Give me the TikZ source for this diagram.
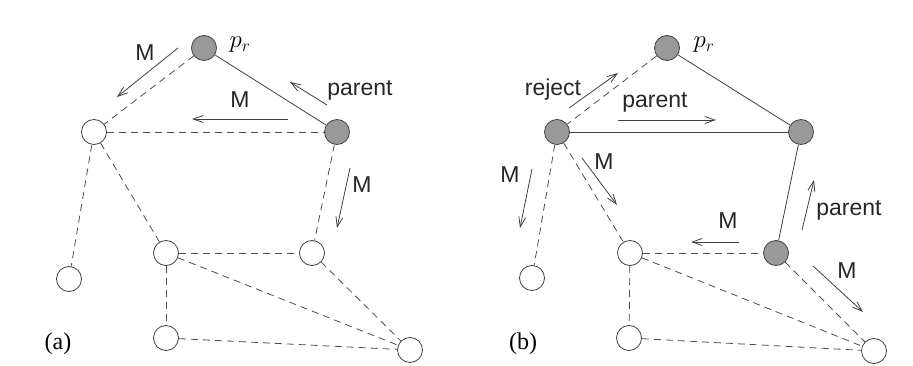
\documentclass[tikz,border=0pt]{standalone}
\usepackage{fontspec}
\setmainfont{Liberation Serif}
\setsansfont{Liberation Sans}
\usetikzlibrary{arrows.meta}
\begin{document}
\begin{tikzpicture}[x=1pt,y=-1pt,
  vtx/.style={circle,draw=black!75,line width=0.8pt,minimum size=25pt,inner sep=0pt,fill=white},
  leader/.style={vtx,fill=black!40},
  tree/.style={draw=black!75,line width=0.8pt},
  nbr/.style={draw=black!70,line width=0.8pt,dash pattern=on 7pt off 5pt},
  msg/.style={draw=black!75,line width=0.8pt,-{Straight Barb[length=10pt,width=7pt]}},
  lbl/.style={font=\sffamily\fontsize{23}{27}\selectfont,text=black!85,inner sep=0pt},
  figcap/.style={font=\fontsize{24}{28}\selectfont,inner sep=0pt},
  prl/.style={font=\fontsize{27}{31}\selectfont,inner sep=0pt}
]
\useasboundingbox (0,0) rectangle (913,366);
% ---------- (a) ----------
\node[leader] (apr) at (204,48) {};
\node[vtx] (aA) at (94,132) {};
\node[leader] (aB) at (337,132) {};
\node[vtx] (aC) at (69,279) {};
\node[vtx] (aD) at (166,253) {};
\node[vtx] (aE) at (312,253) {};
\node[vtx] (aF) at (166,338) {};
\node[vtx] (aG) at (410,350) {};
\node[prl] (aprl) at (240,45) {$p_r$};
\draw[tree] (apr) -- (aB);
\draw[nbr] (apr) -- (aA);
\draw[nbr] (aA) -- (aB);
\draw[nbr] (aA) -- (aC);
\draw[nbr] (aA) -- (aD);
\draw[nbr] (aB) -- (aE);
\draw[nbr] (aD) -- (aE);
\draw[nbr] (aD) -- (aF);
\draw[nbr] (aD) -- (aG);
\draw[nbr] (aE) -- (aG);
\draw[nbr] (aF) -- (aG);
\coordinate (am1s) at (178,48);  \coordinate (am1e) at (117,97);
\coordinate (am2s) at (288,119); \coordinate (am2e) at (192,119);
\coordinate (aps) at (327,105);  \coordinate (ape) at (290,82);
\coordinate (am3s) at (350,168); \coordinate (am3e) at (337,228);
\draw[msg] (am1s) -- (am1e);
\draw[msg] (am2s) -- (am2e);
\draw[msg] (aps) -- (ape);
\draw[msg] (am3s) -- (am3e);
\node[lbl] (am1l) at (145,53) {M};
\node[lbl] (am2l) at (240,100) {M};
\node[lbl] (apl) at (360,90) {parent};
\node[lbl] (am3l) at (362,185) {M};
\node[figcap] (acap) at (58,344) {(a)};
% ---------- (b) ----------
\node[leader] (bpr) at (667,48) {};
\node[leader] (bA) at (557,132) {};
\node[leader] (bB) at (801,132) {};
\node[vtx] (bC) at (532,278) {};
\node[vtx] (bD) at (630,253) {};
\node[leader] (bE) at (776,253) {};
\node[vtx] (bF) at (629,338) {};
\node[vtx] (bG) at (874,351) {};
\node[prl] (bprl) at (704,45) {$p_r$};
\draw[tree] (bpr) -- (bB);
\draw[tree] (bA) -- (bB);
\draw[tree] (bB) -- (bE);
\draw[nbr] (bpr) -- (bA);
\draw[nbr] (bA) -- (bC);
\draw[nbr] (bA) -- (bD);
\draw[nbr] (bD) -- (bE);
\draw[nbr] (bD) -- (bF);
\draw[nbr] (bD) -- (bG);
\draw[nbr] (bE) -- (bG);
\draw[nbr] (bF) -- (bG);
\coordinate (brs) at (569,108);  \coordinate (bre) at (618,73);
\coordinate (bp1s) at (618,120); \coordinate (bp1e) at (716,120);
\coordinate (bm1s) at (532,169); \coordinate (bm1e) at (520,228);
\coordinate (bm2s) at (582,158); \coordinate (bm2e) at (617,205);
\coordinate (bm3s) at (739,242); \coordinate (bm3e) at (691,242);
\coordinate (bp2s) at (802,230); \coordinate (bp2e) at (814,180);
\coordinate (bm4s) at (813,266); \coordinate (bm4e) at (863,312);
\draw[msg] (brs) -- (bre);
\draw[msg] (bp1s) -- (bp1e);
\draw[msg] (bm1s) -- (bm1e);
\draw[msg] (bm2s) -- (bm2e);
\draw[msg] (bm3s) -- (bm3e);
\draw[msg] (bp2s) -- (bp2e);
\draw[msg] (bm4s) -- (bm4e);
\node[lbl] (brl) at (553,90) {reject};
\node[lbl] (bp1l) at (655,102) {parent};
\node[lbl] (bm1l) at (510,175) {M};
\node[lbl] (bm2l) at (604,162) {M};
\node[lbl] (bm3l) at (728,221) {M};
\node[lbl] (bp2l) at (849,210) {parent};
\node[lbl] (bm4l) at (847,271) {M};
\node[figcap] (bcap) at (523,344) {(b)};
\end{tikzpicture}
\end{document}
